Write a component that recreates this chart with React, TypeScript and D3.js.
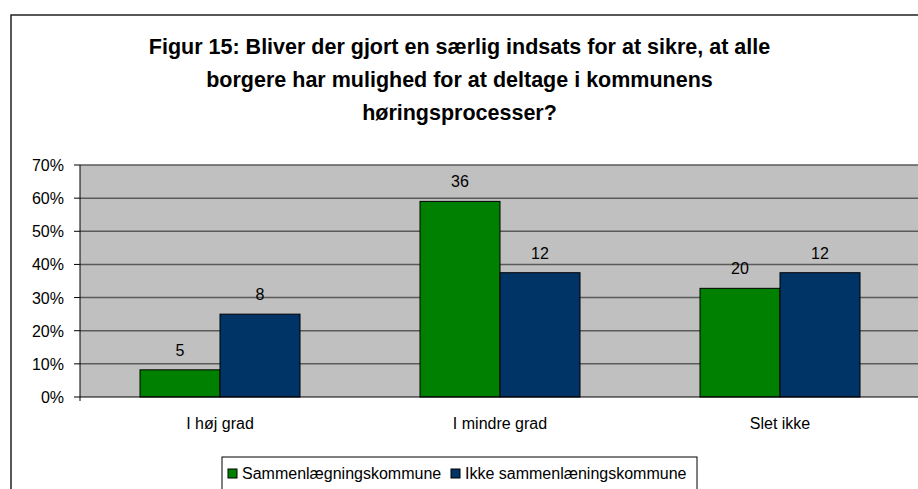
import React from "react";
import * as d3 from "d3";

const categories = ["I høj grad", "I mindre grad", "Slet ikke"];
const seriesNames = ["Sammenlægningskommune", "Ikke sammenlæningskommune"];
const seriesColors = ["#008000", "#003366"];
const countsGreen = [5, 36, 20];
const countsBlue = [8, 12, 12];
const totalGreen = 61;
const totalBlue = 32;
const yTicks = [0, 0.1, 0.2, 0.3, 0.4, 0.5, 0.6, 0.7];
const titleLines = [
  "Figur 15: Bliver der gjort en særlig indsats for at sikre, at alle",
  "borgere har mulighed for at deltage i kommunens",
  "høringsprocesser?",
];

const FONT = "'Liberation Sans', Arial, sans-serif";

export default function App() {
  const W = 918;
  const H = 489;
  const plotLeft = 80;
  const plotRight = 920;
  const plotTop = 165;
  const plotBottom = 397;

  const x = d3.scaleBand<string>().domain(categories).range([plotLeft, plotRight]).padding(0);
  const x1 = d3.scaleBand<string>().domain(seriesNames).range([0, x.bandwidth()]).paddingInner(0).paddingOuter(0.75);
  const y = d3.scaleLinear().domain([0, 0.7]).range([plotBottom, plotTop]);

  const series = [
    { name: seriesNames[0], color: seriesColors[0], counts: countsGreen, total: totalGreen },
    { name: seriesNames[1], color: seriesColors[1], counts: countsBlue, total: totalBlue },
  ];

  const pct = d3.format(".0%");

  return (
    <svg width={W} height={H} style={{ position: "absolute", left: 0, top: 0, display: "block" }} fontFamily={FONT}>
      <rect x={0} y={0} width={W} height={H} fill="#ffffff" />
      {/* frame */}
      <path d={`M11,${H + 5} L11,15 L${W + 5},15`} fill="none" stroke="#222" strokeWidth={1.5} />
      {/* title */}
      {titleLines.map((t, i) => (
        <text key={i} x={459.5} y={54 + i * 33} textAnchor="middle" fontSize={21.5} fontWeight="bold" fill="#000">
          {t}
        </text>
      ))}
      {/* plot background */}
      <rect x={plotLeft} y={plotTop} width={plotRight - plotLeft} height={plotBottom - plotTop} fill="#c0c0c0" />
      {/* gridlines */}
      {yTicks.slice(1).map((t) => (
        <line key={t} x1={plotLeft} x2={plotRight} y1={y(t)} y2={y(t)} stroke="#5a5a5a" strokeWidth={1.5} />
      ))}
      {/* bars */}
      {categories.map((c, ci) =>
        series.map((s) => {
          const v = s.counts[ci] / s.total;
          const bx = (x(c) as number) + (x1(s.name) as number);
          const bw = x1.bandwidth();
          return (
            <g key={c + s.name}>
              <rect x={bx} y={y(v)} width={bw} height={plotBottom - y(v)} fill={s.color} stroke="#000" strokeWidth={1} />
              <text x={bx + bw / 2} y={y(v) - 14} textAnchor="middle" fontSize={16} fill="#000">
                {s.counts[ci]}
              </text>
            </g>
          );
        })
      )}
      {/* axes */}
      <line x1={plotLeft} x2={plotLeft} y1={plotTop} y2={plotBottom + 4} stroke="#000" strokeWidth={1} />
      <line x1={plotLeft} x2={plotRight} y1={plotBottom} y2={plotBottom} stroke="#000" strokeWidth={1} />
      {yTicks.map((t) => (
        <g key={"t" + t}>
          <line x1={plotLeft - 6} x2={plotLeft} y1={y(t)} y2={y(t)} stroke="#000" strokeWidth={1} />
          <text x={64} y={y(t) + 6} textAnchor="end" fontSize={16} fill="#000">
            {pct(t)}
          </text>
        </g>
      ))}
      {categories.map((c) => (
        <text key={"c" + c} x={(x(c) as number) + x.bandwidth() / 2} y={429} textAnchor="middle" fontSize={16} fill="#000">
          {c}
        </text>
      ))}
      {/* legend */}
      <rect x={222} y={457} width={475} height={50} fill="#fff" stroke="#000" strokeWidth={1} />
      {[228, 451].map((lx, i) => (
        <g key={"l" + i}>
          <rect x={lx} y={469} width={9} height={9} fill={seriesColors[i]} stroke="#000" strokeWidth={1} />
          <text x={lx + 14} y={479} fontSize={16} fill="#000">
            {seriesNames[i]}
          </text>
        </g>
      ))}
    </svg>
  );
}
